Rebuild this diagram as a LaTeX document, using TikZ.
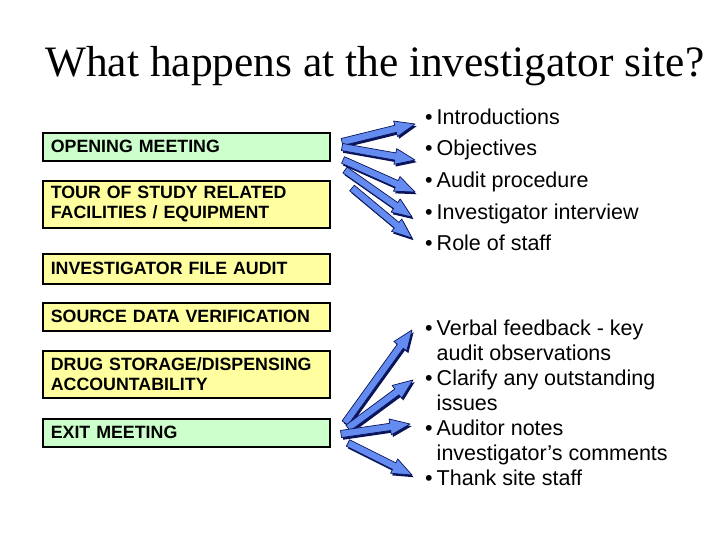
\documentclass[tikz,border=0pt]{standalone}
\usepackage{fontspec}
\setmainfont{Liberation Sans}
\newfontfamily\titlefont{Liberation Serif}
\usetikzlibrary{calc}
\definecolor{boxgreen}{RGB}{204,255,204}
\definecolor{boxyellow}{RGB}{255,255,160}
\definecolor{arrblue}{RGB}{100,140,240}
\definecolor{arrdark}{RGB}{10,20,90}
\newcommand\arrowpoly[2]{($(#1)!3.6pt!90:(#2)$) -- ($(#1h)!3.6pt!90:(#2)$) -- ($(#1h)!8pt!90:(#2)$) -- (#2) -- ($(#1h)!8pt!-90:(#2)$) -- ($(#1h)!3.6pt!-90:(#2)$) -- ($(#1)!3.6pt!-90:(#2)$) -- cycle}
\newcommand\blockarrow[2]{%
  \coordinate (#1h) at ($(#2)!20pt!(#1)$);
  \begin{scope}[transform canvas={shift={(1.6pt,-2.2pt)}}]
    \fill[arrdark] \arrowpoly{#1}{#2};
  \end{scope}
  \filldraw[fill=arrblue, draw=arrdark, line width=0.7pt, line join=round] \arrowpoly{#1}{#2};
}
\tikzset{
  stagebox/.style={draw=black, line width=1.6pt, anchor=north west, minimum width=287pt,
    inner xsep=8pt, inner ysep=0pt, text width=271pt, align=left,
    font=\fontsize{17.8}{20}\selectfont\bfseries},
  greenbox/.style={stagebox, fill=boxgreen},
  yellowbox/.style={stagebox, fill=boxyellow},
}
\begin{document}
\begin{tikzpicture}[x=1pt,y=-1pt]
\fill[white] (0,0) rectangle (720,540);
\useasboundingbox (0,0) rectangle (720,540);

\node[anchor=base west, inner sep=0, font=\titlefont\fontsize{43.4}{50}\selectfont] (title) at (45,77) {What happens at the investigator site?};

\node[greenbox, minimum height=28pt] (open) at (42,132) {OPENING MEETING};
\node[yellowbox, minimum height=47pt] (tour) at (42,180) {TOUR OF STUDY RELATED\\FACILITIES / EQUIPMENT};
\node[yellowbox, minimum height=30pt] (file) at (42,253) {INVESTIGATOR FILE AUDIT};
\node[yellowbox, minimum height=28pt] (sdv) at (42,302) {SOURCE DATA VERIFICATION};
\node[yellowbox, minimum height=47pt] (drug) at (42,350) {DRUG STORAGE/DISPENSING\\ACCOUNTABILITY};
\node[greenbox, minimum height=28pt] (exit) at (42,418) {EXIT MEETING};

\node[anchor=north west, inner sep=0, font=\fontsize{21.5}{31.7}\selectfont] (upper) at (425,101.8) {%
\begin{tabular}{@{}l@{\hspace{4pt}}l@{}}
\textbullet & Introductions\\
\textbullet & Objectives\\
\textbullet & Audit procedure\\
\textbullet & Investigator interview\\
\textbullet & Role of staff
\end{tabular}};

\node[anchor=north west, inner sep=0, font=\fontsize{21.5}{25}\selectfont] (lower) at (425,317.5) {%
\begin{tabular}{@{}l@{\hspace{4pt}}l@{}}
\textbullet & Verbal feedback - key\\
 & audit observations\\
\textbullet & Clarify any outstanding\\
 & issues\\
\textbullet & Auditor notes\\
 & investigator’s comments\\
\textbullet & Thank site staff
\end{tabular}};

% upper fan of arrows
\coordinate (u1) at (342,142); \coordinate (u1tip) at (415,124);
\coordinate (u2) at (342,147); \coordinate (u2tip) at (415,160);
\coordinate (u3) at (343,160); \coordinate (u3tip) at (415,192);
\coordinate (u4) at (345,170); \coordinate (u4tip) at (412,217);
\coordinate (u5) at (352,188); \coordinate (u5tip) at (412,238);
\blockarrow{u1}{u1tip}
\blockarrow{u2}{u2tip}
\blockarrow{u3}{u3tip}
\blockarrow{u4}{u4tip}
\blockarrow{u5}{u5tip}

% lower fan of arrows
\coordinate (l1) at (345,423); \coordinate (l1tip) at (412,330);
\coordinate (l2) at (348,428); \coordinate (l2tip) at (413,380);
\coordinate (l3) at (341,434); \coordinate (l3tip) at (410,424);
\coordinate (l4) at (348,443); \coordinate (l4tip) at (412,475);
\blockarrow{l1}{l1tip}
\blockarrow{l2}{l2tip}
\blockarrow{l3}{l3tip}
\blockarrow{l4}{l4tip}
\end{tikzpicture}
\end{document}
